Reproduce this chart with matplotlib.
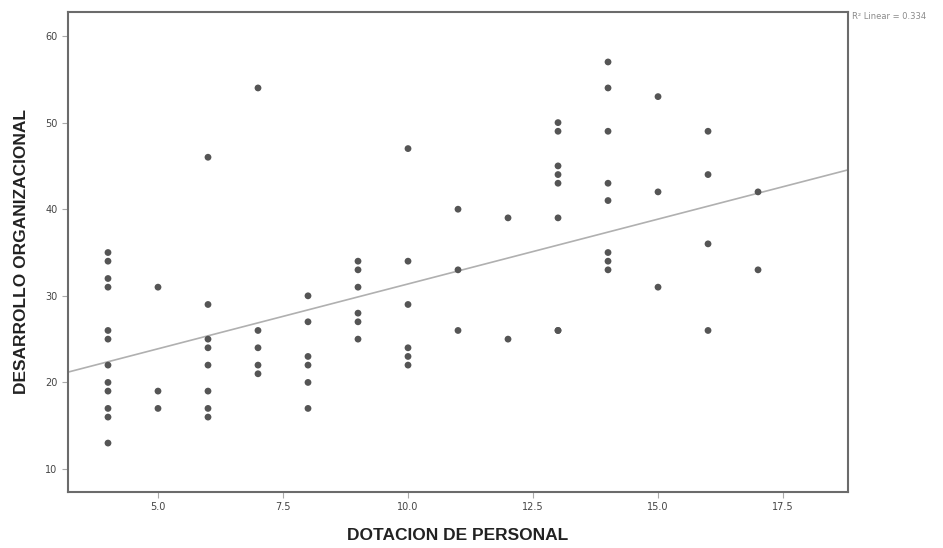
import numpy as np
from matplotlib import pyplot as plt

# values, grouped by DOTACION DE PERSONAL
dotacion = ([4] * 12 + [5] * 3 + [6] * 8 + [7] * 5 + [8] * 6 + [9] * 6 +
            [10] * 6 + [11] * 3 + [12] * 2 + [13] * 8 + [14] * 8 + [15] * 3 +
            [16] * 4 + [17] * 2)
desarrollo = [35, 34, 32, 31, 26, 25, 22, 20, 19, 17, 16, 13,
              31, 19, 17,
              46, 29, 25, 24, 22, 19, 17, 16,
              54, 26, 24, 22, 21,
              30, 27, 23, 22, 20, 17,
              34, 33, 31, 28, 27, 25,
              47, 34, 29, 24, 23, 22,
              40, 33, 26,
              39, 25,
              50, 49, 45, 44, 43, 39, 26, 26,
              57, 54, 49, 43, 41, 35, 34, 33,
              53, 42, 31,
              49, 44, 36, 26,
              42, 33]
# fit line as drawn in the source (intercept, slope)
fit_line = [16.4, 1.497]
r2_label = "R\u00b2 Linear = 0.334"

x = np.array(dotacion, dtype=float)
y = np.array(desarrollo, dtype=float)

fig = plt.figure(figsize=(9.43, 5.48), dpi=100)
ax = fig.add_axes([0.0721, 0.1022, 0.8272, 0.8759])

ax.scatter(x, y, s=24, color='#555555', edgecolors='none', zorder=3)

xs = np.array([3.2, 18.8])
ax.plot(xs, fit_line[0] + fit_line[1] * xs, color='#b0b0b0', linewidth=1.2, zorder=2)

ax.set_xlim(3.2, 18.8)
ax.set_ylim(7.35, 62.77)
ax.set_xticks([5, 7.5, 10, 12.5, 15, 17.5])
ax.set_xticklabels(['5.0', '7.5', '10.0', '12.5', '15.0', '17.5'])
ax.set_yticks([10, 20, 30, 40, 50, 60])

for side in ax.spines.values():
    side.set_color('#6b6b6b')
    side.set_linewidth(1.5)
ax.tick_params(direction='out', length=4, width=0.8, color='#aaaaaa',
               labelsize=7, labelcolor='#444444')

ax.set_xlabel("DOTACION DE PERSONAL", fontsize=12.5, fontweight='bold',
              color='#222222', family='Liberation Sans', labelpad=11)
ax.set_ylabel("DESARROLLO ORGANIZACIONAL", fontsize=12.5, fontweight='bold',
              color='#222222', family='Liberation Sans', labelpad=12)

fig.text(0.9035, 0.965, r2_label, fontsize=6, color='#8a8a8a')

plt.savefig('out.png', dpi=100)
